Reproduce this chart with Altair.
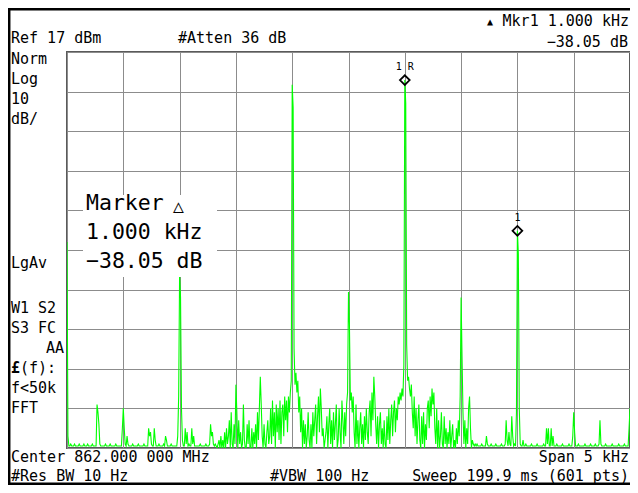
import altair as alt
import pandas as pd

# ---------------- data ----------------
CENTER_MHZ = 862.0
SPAN_KHZ = 5.0
N_POINTS = 601
REF_DBM = 17
DB_PER_DIV = 10
N_DIV = 10

trace_dbm = [
    -31, -80, -82.5, -82.5, -82, -82.5, -82.5, -82.5, -82, -82.5, -82.5, -82.5, -82.5, -82, -82.5, -82.5, -82.5, -82.5, -82, -82.5,
    -82.5, -82.5, -82, -82.5, -82.5, -82.5, -82.5, -82, -82.5, -82.5, -82.5, -82.5, -72, -74, -77, -82, -82.5, -82.5, -82.5, -82.5,
    -82.5, -82, -82.5, -82.5, -82.5, -82.5, -82, -82.5, -82.5, -82.5, -82.5, -82.5, -82, -82.5, -82.5, -82.5, -82.5, -82.5, -82.5, -78,
    -73, -78, -82, -82.5, -80, -82, -82.5, -82.5, -82.5, -82.5, -82, -82.5, -82.5, -82.5, -82.5, -82.5, -82, -82.5, -82.5, -82.5,
    -82.5, -82.5, -82, -82.5, -82.5, -82.5, -82.5, -78, -80, -79, -82, -82.5, -82.5, -78, -81, -82.5, -82.5, -82.5, -82, -82.5,
    -82.5, -82.5, -82.5, -82, -82.5, -80, -81, -82.5, -82.5, -82.5, -82.5, -82, -82.5, -82.5, -82.5, -82.5, -82.5, -82.5, -80, -70,
    -39, -45, -73, -81, -82.5, -82.5, -78, -82, -79, -82.5, -82, -82.5, -82.5, -78, -82, -80, -82.5, -82.5, -82.5, -82.5,
    -82.5, -82.5, -82, -82.5, -82.5, -82.5, -82.5, -82.5, -82, -82.5, -82.5, -82.5, -82, -77, -80, -79, -82, -82.5, -82, -82.5,
    -83, -82, -81, -83, -80, -83, -81, -83, -79, -83, -78, -82, -80, -76, -83, -74, -82, -83, -77, -82,
    -67, -74, -83, -76, -82, -79, -83, -82, -72, -81, -83, -83, -77, -82, -76, -83, -83, -78, -83, -79,
    -82, -77, -83, -74, -81, -73, -65, -72, -80, -83, -77, -82, -83, -79, -76, -82, -80, -73, -82, -71,
    -80, -74, -83, -72, -79, -73, -81, -71, -82, -74, -72, -80, -70, -76, -71, -79, -70, -74, -69, -66,
    8.7, 3, -58, -67, -64, -69, -66, -74, -70, -79, -73, -83, -76, -82, -77, -83, -80, -74, -81, -83,
    -77, -83, -74, -80, -76, -72, -82, -75, -70, -79, -68, -73, -80, -78, -83, -81, -79, -75, -83, -77,
    -73, -82, -76, -83, -74, -81, -77, -72, -83, -81, -73, -79, -83, -71, -76, -82, -74, -80, -72, -69,
    -43.6, -52, -71, -69, -74, -70, -79, -83, -72, -82, -76, -83, -78, -74, -82, -77, -83, -75, -81, -73,
    -79, -82, -74, -71, -80, -69, -76, -65, -70, -77, -82, -75, -83, -77, -74, -82, -78, -83, -76, -82,
    -83, -75, -81, -73, -82, -76, -72, -80, -74, -71, -79, -73, -76, -70, -72, -69, -71, -68, -70, -62,
    9.9, 4, -57, -66, -65, -68, -70, -67, -74, -78, -70, -80, -73, -82, -76, -72, -81, -83, -75, -82,
    -74, -83, -77, -81, -73, -71, -78, -70, -75, -68, -72, -69, -78, -82, -73, -83, -76, -83, -80, -74,
    -82, -83, -75, -82, -78, -83, -79, -82, -76, -83, -80, -77, -83, -81, -83, -78, -82, -76, -80, -70,
    -45, -60, -74, -82, -76, -83, -78, -82, -73, -70, -78, -83, -81, -82, -82.5, -82, -82.5, -82, -82.5, -82.5,
    -82.5, -82.5, -82, -82.5, -82.5, -82.5, -82.5, -80, -82, -82.5, -82.5, -82.5, -82, -82.5, -82.5, -82.5, -82.5, -82, -82.5, -82.5,
    -82.5, -82.5, -82.5, -82, -82.5, -82.5, -82.5, -82, -76, -81, -82.5, -79, -82, -82.5, -75, -80, -82.5, -82, -82.5, -74,
    -28.15, -34, -73, -82, -82.5, -82.5, -81, -82.5, -82.5, -82, -82.5, -82.5, -82.5, -82.5, -82.5, -82, -82.5, -82.5, -82.5, -82.5,
    -82.5, -82, -82.5, -82.5, -82.5, -82.5, -82.5, -82.5, -82, -82.5, -82.5, -78, -82, -78, -82.5, -82.5, -78, -82.5, -80, -82.5,
    -82.5, -82.5, -82, -82.5, -82.5, -82.5, -82.5, -82.5, -82, -82.5, -82.5, -82.5, -82.5, -82.5, -82.5, -82, -82.5, -82.5, -82.5, -80,
    -74, -79, -82.5, -82.5, -82.5, -82, -82.5, -82.5, -82.5, -82.5, -82.5, -82.5, -82, -82.5, -82.5, -82.5, -82.5, -82.5, -82, -82.5,
    -82.5, -82.5, -82.5, -82, -82.5, -82.5, -82.5, -82, -76, -82, -82.5, -82.5, -82.5, -82.5, -82, -82.5, -82.5, -82.5, -82.5, -82.5,
    -82.5, -82, -82.5, -82.5, -82.5, -82.5, -82.5, -82.5, -82, -82.5, -82.5, -82.5, -82.5, -82.5, -82, -82.5, -82.5, -82.5, -82.5, -78, -73,
]
assert len(trace_dbm) == N_POINTS, len(trace_dbm)

marker_freq_khz = [0.5, 1.5]
marker_dbm = [9.9, -28.15]
marker_label = ["1 R", "1"]

# ---------------- layout ----------------
FONT = "DejaVu Sans Mono"
W, H = 563, 396          # graticule size (page must stay within 622 x 477)
X0, Y0 = 67, 52          # graticule top-left in page pixels
PAD = {"left": X0 - 8, "top": Y0 - 8, "right": 0, "bottom": 477 - (Y0 - 8) - H}

bottom_dbm = REF_DBM - N_DIV * DB_PER_DIV
freq_khz = [-SPAN_KHZ / 2 + i * SPAN_KHZ / (N_POINTS - 1) for i in range(N_POINTS)]
trace = pd.DataFrame({"f": freq_khz, "db": trace_dbm})
markers = pd.DataFrame({"f": marker_freq_khz, "db": marker_dbm, "lab": marker_label})

x_ticks = [-SPAN_KHZ / 2 + k * SPAN_KHZ / N_DIV for k in range(N_DIV + 1)]
y_ticks = [bottom_dbm + k * DB_PER_DIV for k in range(N_DIV + 1)]

GRID = "#8c8c8c"
xenc = alt.X("f:Q", scale=alt.Scale(domain=[-SPAN_KHZ / 2, SPAN_KHZ / 2], nice=False, zero=False),
             axis=alt.Axis(values=x_ticks, grid=True, labels=False, ticks=False, domain=False,
                           title=None, gridColor=GRID, gridWidth=1, gridOpacity=1))
yenc = alt.Y("db:Q", scale=alt.Scale(domain=[bottom_dbm, REF_DBM], nice=False, zero=False),
             axis=alt.Axis(values=y_ticks, grid=True, labels=False, ticks=False, domain=False,
                           title=None, gridColor=GRID, gridWidth=1, gridOpacity=1))

line = alt.Chart(trace).mark_line(color="#00ff00", strokeWidth=1.1, clip=True).encode(x=xenc, y=yenc)

one = pd.DataFrame({"k": [0]})
box = alt.Chart(one).mark_rect(color="white").encode(
    x=alt.value(83 - X0), x2=alt.value(217 - X0), y=alt.value(195 - Y0), y2=alt.value(277 - Y0))

diam = alt.Chart(markers).mark_point(shape="diamond", filled=False, color="black", size=95,
                                     strokeWidth=1.8, opacity=1).encode(x=xenc, y=yenc)
diam_lab = alt.Chart(markers).mark_text(font=FONT, fontSize=10, dy=-10, baseline="alphabetic",
                                        align="center", color="black").encode(x=xenc, y=yenc, text="lab:N")


def txt(s, px, py, align="left", size=15, weight="normal"):
    return alt.Chart(pd.DataFrame({"t": [s]})).mark_text(
        align=align, baseline="alphabetic", font=FONT, fontSize=size, fontWeight=weight, color="black"
    ).encode(x=alt.value(px - X0), y=alt.value(py - Y0), text="t:N")


labels = [
    txt("Ref 17 dBm", 11, 43),
    txt("#Atten 36 dB", 178, 43),
    txt("▲", 487, 25, size=10),
    txt("Mkr1 1.000 kHz", 629, 26, align="right"),
    txt("−38.05 dB", 628, 46.5, align="right"),
    txt("Norm", 11, 64),
    txt("Log", 11, 84),
    txt("10", 11, 104),
    txt("dB/", 11, 124),
    txt("LgAv", 11, 268),
    txt("W1  S2", 11, 313),
    txt("S3  FC", 11, 333),
    txt("AA", 64, 353, align="right"),
    txt("£", 11, 373, weight="bold"),
    txt("(f):", 20, 373),
    txt("f<50k", 11, 393),
    txt("FFT", 11, 413),
    txt("Center 862.000 000 MHz", 11, 462),
    txt("Span 5 kHz", 629, 462, align="right"),
    txt("#Res BW 10 Hz", 11, 481),
    txt("#VBW 100 Hz", 270, 481),
    txt("Sweep 199.9 ms (601 pts)", 629, 481, align="right"),
    txt("Marker", 86, 210, size=21.5),
    txt("△", 173, 212, size=18, weight="bold"),
    txt("1.000 kHz", 86, 239, size=21.5),
    txt("−38.05 dB", 86, 268, size=21.5),
]

frame = [
    alt.Chart(one).mark_rule(color="black", strokeWidth=2.5).encode(
        x=alt.value(9.2 - X0), y=alt.value(8 - Y0), y2=alt.value(485 - Y0)),
    alt.Chart(one).mark_rule(color="black", strokeWidth=2.5).encode(
        x=alt.value(8 - X0), x2=alt.value(630 - X0), y=alt.value(9.2 - Y0)),
    alt.Chart(one).mark_rule(color="black", strokeWidth=2.5).encode(
        x=alt.value(8 - X0), x2=alt.value(630 - X0), y=alt.value(483.8 - Y0)),
]

chart = alt.layer(line, box, diam, diam_lab, *labels, *frame).properties(
    width=W, height=H, padding=PAD, autosize="none", background="white"
).configure_view(stroke="#5a5a5a", strokeWidth=2)

chart.save("out.html", embed_options={"renderer": "svg", "actions": False})
